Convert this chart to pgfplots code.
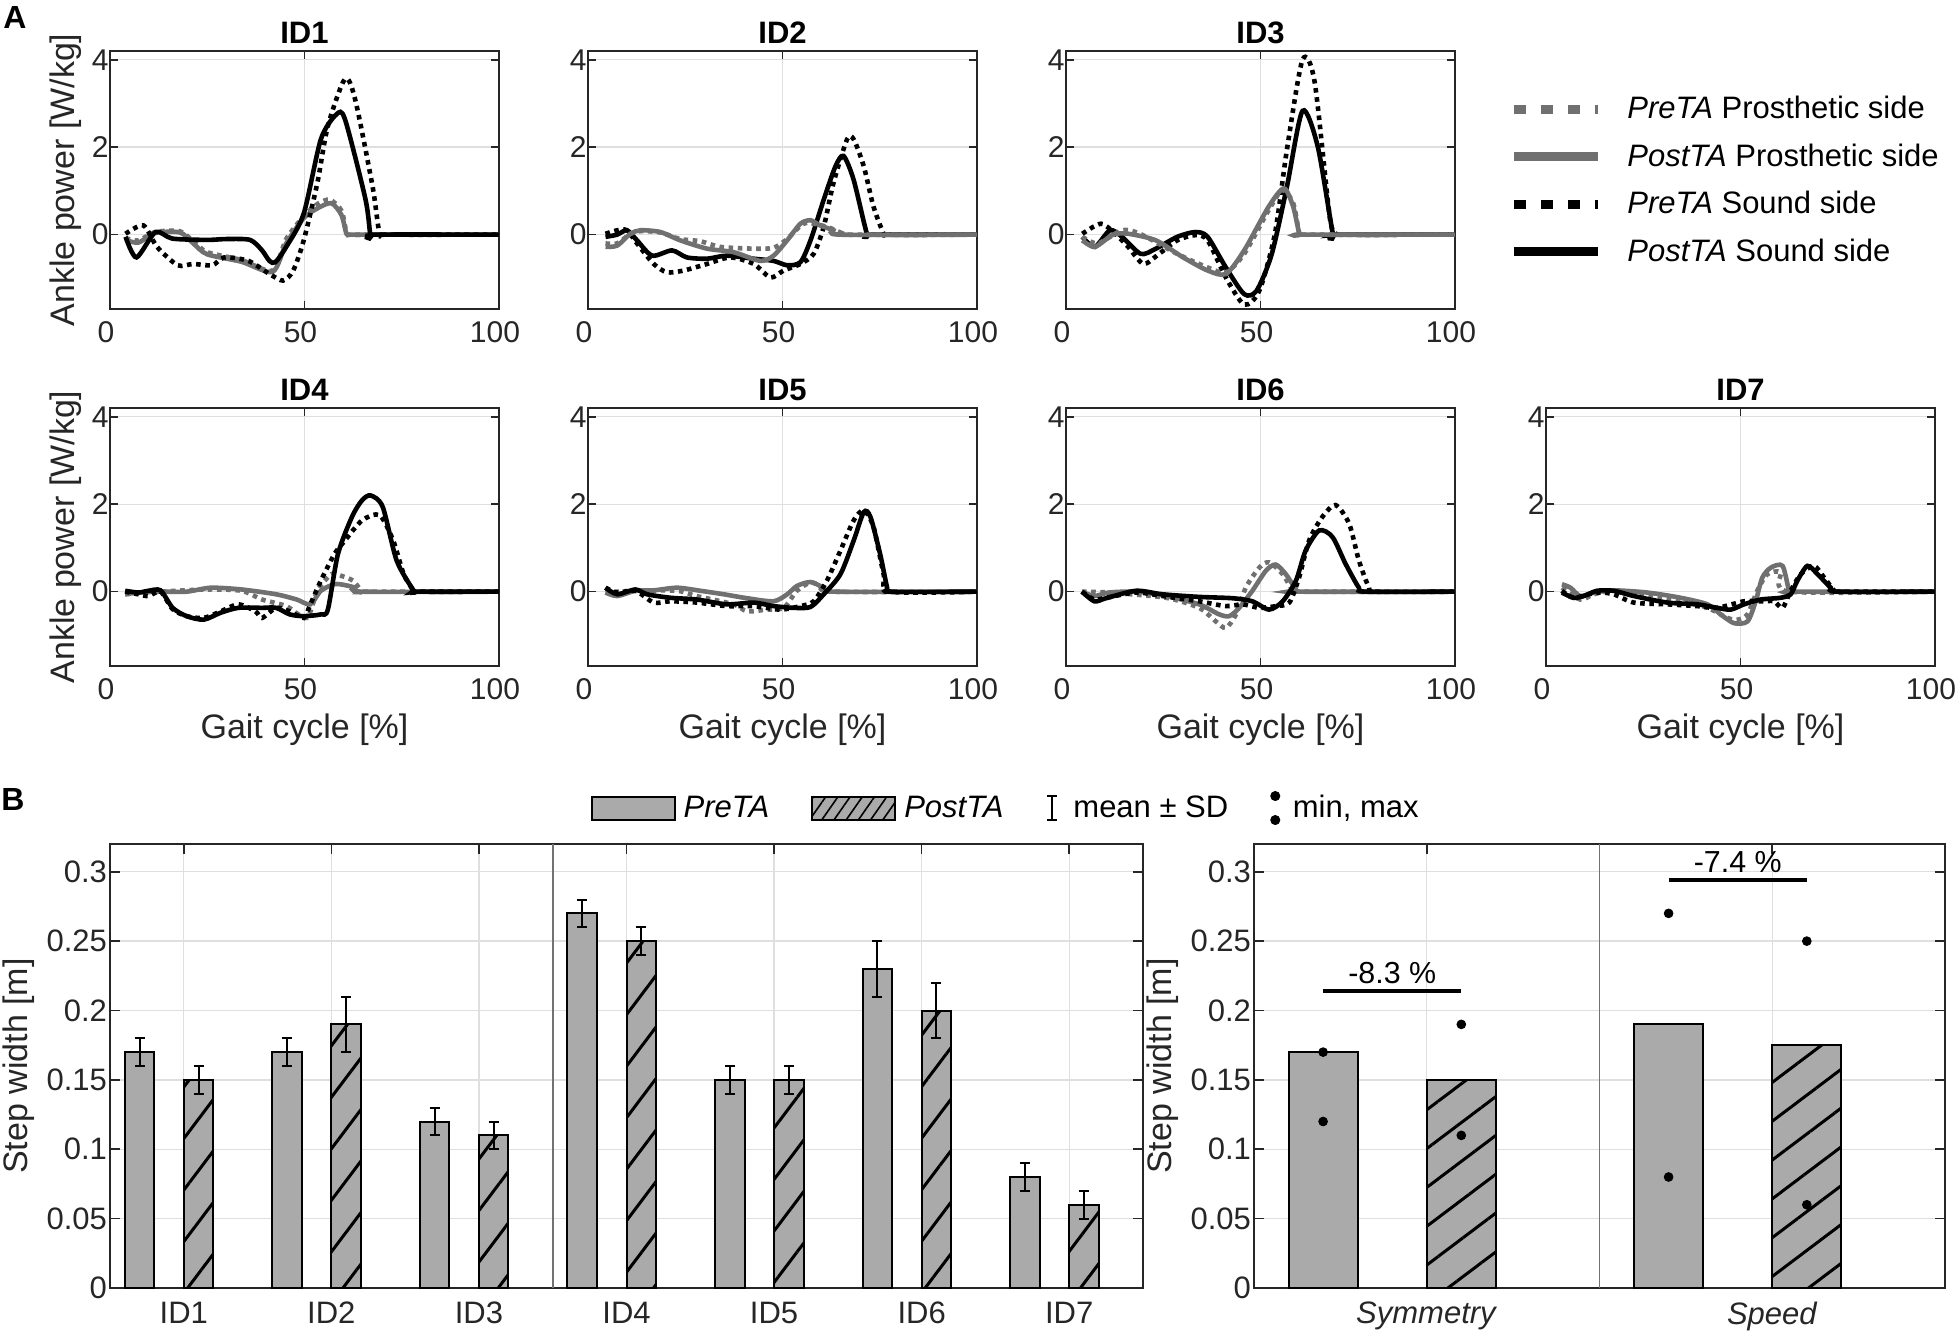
\documentclass[border=0pt]{standalone}
\usepackage{fontspec}
\setmainfont{Liberation Sans}
\usepackage{pgfplots}
\pgfplotsset{compat=1.18}
\usetikzlibrary{patterns.meta}

\definecolor{axc}{RGB}{38,38,38}
\definecolor{gridc}{RGB}{223,223,223}
\definecolor{barg}{RGB}{170,170,170}
\definecolor{prosg}{RGB}{112,112,112}

\newcommand{\tickfont}{\fontsize{15}{18}\selectfont}
\newcommand{\labfont}{\fontsize{17}{20}\selectfont}
\newcommand{\titfont}{\fontsize{15.5}{18}\selectfont\bfseries}
\newcommand{\legfont}{\fontsize{15.5}{18}\selectfont}

\pgfplotsset{
  common/.style={
    scale only axis,
    grid=major,
    major grid style={draw=gridc, line width=0.7pt},
    axis line style={draw=axc, line width=1pt},
    major tick style={draw=axc, line width=0.8pt},
    tick align=inside,
    /pgf/number format/assume math mode=true,
    tick label style={font=\tickfont, text=axc},
    label style={font=\labfont, text=axc},
  },
  gait/.style={common,
    width=194.5pt, height=129pt,
    xmin=0, xmax=100, ymin=-1.7, ymax=4.2,
    xtick={0,50,100}, ytick={0,2,4},
    major tick length=4pt,
    xticklabel style={yshift=-2.5pt, xshift=-2pt},
    yticklabel style={xshift=2.8pt},
    every axis title shift=0pt,
    title style={font=\titfont, text=black, at={(0.5,1)}, anchor=base, yshift=3.5pt},
    ylabel style={at={(axis description cs:-0.113,0.5)}, anchor=center},
    xlabel style={at={(axis description cs:0.5,-0.247)}, anchor=center},
  },
  bars/.style={common,
    height=222pt, ymin=0, ymax=0.32,
    ytick={0,0.05,0.1,0.15,0.2,0.25,0.3},
    yticklabels={0,0.05,0.1,0.15,0.2,0.25,0.3},
    major tick length=5pt,
    tick label style={font=\fontsize{15.5}{18}\selectfont, text=axc},
    xticklabel style={yshift=-3.5pt},
    yticklabel style={xshift=2pt},
    ylabel={Step width [m]},
  },
  preP/.style={draw=prosg, line width=2.3pt, dash pattern=on 2.3pt off 2.3pt, smooth, tension=0.45},
  postP/.style={draw=prosg, line width=2.3pt, smooth, tension=0.45},
  preS/.style={draw=black, line width=2.3pt, dash pattern=on 2.3pt off 2.3pt, smooth, tension=0.45},
  postS/.style={draw=black, line width=2.3pt, smooth, tension=0.45},
  preBar/.style={ybar, bar width=0.2, bar shift=0pt, fill=barg, draw=black, line width=1pt},
  postBar/.style={ybar, bar width=0.2, bar shift=0pt, fill=barg, draw=black, line width=1pt,
    postaction={pattern={Lines[angle=#1, distance=15.5pt, line width=1.5pt]}}},
  sdbars/.style={draw=none, mark=none, forget plot,
    error bars/.cd, y dir=both, y explicit,
    error bar style={draw=black, line width=1pt},
    error mark options={rotate=90, draw=black, mark size=2.5pt, line width=1pt}},
}

\begin{document}
\begin{tikzpicture}
\useasboundingbox (0pt,0pt) rectangle (980pt,-665.5pt);

\node[anchor=base west, font=\fontsize{16}{18}\selectfont\bfseries, inner sep=0pt] at (1.5pt,-14.5pt) {A};
\node[anchor=base west, font=\fontsize{16}{18}\selectfont\bfseries, inner sep=0pt] at (0.5pt,-405pt) {B};

% ---------- row 1 ----------
\begin{axis}[gait, at={(55pt,-25.5pt)}, anchor=north west, title={ID1}, ylabel={Ankle power [W/kg]}]
\addplot[preP] coordinates {(4,-0.08) (7.3,-0.13) (11.7,0.06) (17.9,0.08) (21.4,-0.15) (25,-0.4) (33.8,-0.58) (41.8,-0.82) (45.3,-0.1) (49.8,0.42) (53.3,0.7) (56.5,0.8) (59.5,0.55) (60.8,0.05) (62,0) (70,0) (100,0)};
\addplot[postP] coordinates {(4,-0.12) (7.3,-0.18) (11.7,0.04) (18,0.05) (21.4,-0.2) (25,-0.45) (33.8,-0.62) (41.8,-0.85) (45.3,-0.2) (49.8,0.38) (53.3,0.6) (56.9,0.72) (59.5,0.45) (60.8,0.02) (62,0) (70,0) (100,0)};
\addplot[preS] coordinates {(4,0.02) (8.6,0.21) (12.1,-0.28) (17.4,-0.7) (21.4,-0.67) (26.3,-0.7) (29.4,-0.52) (35.6,-0.6) (41,-0.9) (44.5,-1.05) (47.1,-0.82) (49.8,-0.13) (53.3,1.18) (56,2.48) (60.4,3.56) (63,3.1) (67.5,1.1) (69.3,0.02) (71,0) (100,0)};
\addplot[postS] coordinates {(4,-0.05) (6.8,-0.52) (11.7,0.06) (16,-0.09) (25,-0.12) (30,-0.1) (36,-0.12) (39,-0.35) (41,-0.6) (42.5,-0.63) (45.3,-0.28) (49.8,0.48) (54.2,2.18) (58.2,2.75) (60.4,2.64) (65.7,0.8) (67,-0.05) (68,0) (100,0)};
\end{axis}

\begin{axis}[gait, at={(294pt,-25.5pt)}, anchor=north west, title={ID2}]
\addplot[preS] coordinates {(4.5,0.02) (7.5,0.1) (10,0.1) (12.6,-0.2) (16.9,-0.67) (20.3,-0.86) (24.6,-0.82) (30.6,-0.67) (36.6,-0.52) (42.6,-0.67) (46.9,-0.98) (50.3,-0.82) (54.6,-0.67) (58,-0.44) (60.6,0.18) (63.1,1.18) (66.6,2.18) (68.3,2.18) (70.9,1.56) (73.4,0.64) (76,0.02) (77,0) (100,0)};
\addplot[postS] coordinates {(4.5,-0.05) (7.5,0) (10,0.1) (12.6,-0.13) (16.5,-0.48) (21.6,-0.36) (25.4,-0.52) (30.6,-0.55) (35.7,-0.48) (42.6,-0.55) (47.7,-0.6) (51.2,-0.7) (54.6,-0.63) (57.2,-0.13) (60.6,0.8) (63.6,1.56) (65.7,1.8) (68.3,1.25) (71.7,0.02) (73,0) (100,0)};
\addplot[preP] coordinates {(4.5,-0.2) (7.5,-0.2) (10.9,0.02) (13.5,0.08) (18.6,0.05) (23.7,-0.1) (28.9,-0.15) (34,-0.28) (42.6,-0.32) (47.7,-0.3) (51.2,-0.1) (54.6,0.2) (56.3,0.27) (59.7,0.22) (62.3,0.15) (64.9,0.05) (66,0) (100,0)};
\addplot[postP] coordinates {(4.5,-0.28) (7.5,-0.25) (10.9,0.02) (13.5,0.1) (18.6,0.06) (23.7,-0.13) (30.6,-0.32) (37.4,-0.4) (44.3,-0.6) (47.7,-0.48) (51.2,-0.13) (54.6,0.25) (57.2,0.33) (59.7,0.21) (63.1,0.1) (64.9,0) (100,0)};
\end{axis}

\begin{axis}[gait, at={(533pt,-25.5pt)}, anchor=north west, title={ID3},
  legend style={at={(axis description cs:1.1388,0.841)}, anchor=north west, draw=none, fill=none,
    inner sep=0pt, font=\legfont, text=black, row sep=7pt, column sep=10.5pt, nodes={inner sep=2pt}},
  legend cell align=left]
\addlegendimage{legend image code/.code={\draw[prosg, line width=4.5pt, dash pattern=on 6pt off 7.5pt] (0pt,0pt) -- (42pt,0pt);}}
\addlegendentry{\textit{PreTA} Prosthetic side}
\addlegendimage{legend image code/.code={\draw[prosg, line width=4.5pt] (0pt,0pt) -- (42pt,0pt);}}
\addlegendentry{\textit{PostTA} Prosthetic side}
\addlegendimage{legend image code/.code={\draw[black, line width=4.5pt, dash pattern=on 6pt off 7.5pt] (0pt,0pt) -- (42pt,0pt);}}
\addlegendentry{\textit{PreTA} Sound side}
\addlegendimage{legend image code/.code={\draw[black, line width=4.5pt] (0pt,0pt) -- (42pt,0pt);}}
\addlegendentry{\textit{PostTA} Sound side}
\addplot[preS, forget plot] coordinates {(4.2,0.02) (9,0.25) (12.9,0) (16,-0.28) (19.9,-0.67) (23.9,-0.44) (28.6,-0.13) (33.3,-0.01) (36.4,-0.13) (41.1,-0.98) (45.8,-1.6) (49.7,-1.28) (53.7,0.02) (56.8,1.95) (60.8,4.0) (63.9,3.5) (67.8,0.4) (69.4,0.02) (70.5,0) (100,0)};
\addplot[postS, forget plot] coordinates {(4.2,-0.05) (7.4,-0.28) (11.3,0.1) (14.4,-0.05) (19.2,-0.44) (23.1,-0.32) (28.6,-0.05) (33.3,0.06) (36.4,-0.05) (41.1,-0.75) (45.8,-1.36) (49,-1.28) (52.9,-0.44) (56.8,1.1) (60.8,2.83) (64.7,2.02) (68.6,0.02) (69.5,0) (100,0)};
\addplot[preP, forget plot] coordinates {(4.2,-0.05) (8.2,-0.2) (14.4,0.1) (19,0.02) (28.6,-0.44) (36.4,-0.75) (41.1,-0.86) (45.8,-0.44) (52.1,0.56) (55.6,1.02) (58.4,0.72) (60,0.02) (61,0) (100,0)};
\addplot[postP, forget plot] coordinates {(4.2,-0.13) (7.4,-0.28) (12.1,0) (16,0.02) (23.1,-0.13) (30.1,-0.52) (36.4,-0.82) (41.1,-0.9) (45.8,-0.36) (52.1,0.64) (56,1.06) (58.4,0.64) (60,0.02) (61,0) (100,0)};
\end{axis}

% ---------- row 2 ----------
\begin{axis}[gait, at={(55pt,-204pt)}, anchor=north west, title={ID4}, ylabel={Ankle power [W/kg]}, xlabel={Gait cycle [\%]}]
\addplot[preP] coordinates {(3.9,-0.06) (13,0) (25,0.05) (33.8,0.02) (39.1,-0.18) (45.3,-0.33) (50.6,-0.6) (53.3,0.02) (56.9,0.4) (59.5,0.36) (62.5,0.25) (64.8,0) (66,0) (100,0)};
\addplot[postP] coordinates {(3.9,-0.06) (7.3,-0.02) (13,0) (19.7,0) (25.9,0.09) (33.8,0.05) (42.7,-0.06) (48,-0.18) (51.5,-0.29) (54.2,0.02) (57.7,0.17) (60.4,0.15) (63,0.09) (64.8,0) (100,0)};
\addplot[preS] coordinates {(3.9,0) (7.3,-0.06) (9.9,-0.1) (13,0) (16.1,-0.4) (19.7,-0.56) (24.1,-0.6) (28.5,-0.45) (33,-0.29) (37.4,-0.45) (39.1,-0.6) (42.7,-0.37) (46.2,-0.45) (49.8,-0.6) (51.5,-0.29) (54.2,0.25) (57.7,0.86) (60.4,1.17) (64.8,1.63) (69.3,1.75) (72.8,1.17) (75.5,0.4) (78.1,0.02) (79,0) (100,0)};
\addplot[postS] coordinates {(3.9,0.02) (7.3,-0.02) (9.9,0.02) (13,0.03) (16.1,-0.37) (19.7,-0.56) (24.1,-0.64) (28.5,-0.48) (33,-0.37) (39.1,-0.37) (42.7,-0.37) (46.2,-0.52) (49.8,-0.56) (54.2,-0.52) (56,-0.41) (58.6,0.86) (62.2,1.71) (64.8,2.09) (67,2.2) (70.1,1.94) (73.7,0.71) (78.1,0.02) (79,0) (100,0)};
\end{axis}

\begin{axis}[gait, at={(294pt,-204pt)}, anchor=north west, title={ID5}, xlabel={Gait cycle [\%]}]
\addplot[preP] coordinates {(4.5,-0.02) (12.2,0.02) (22.9,0.02) (27.9,-0.1) (37.4,-0.29) (40.9,-0.45) (45.9,-0.41) (50.3,-0.37) (53.7,0.02) (57.2,0.21) (59.7,0.13) (63.2,0) (100,0)};
\addplot[postP] coordinates {(4.5,-0.02) (7.5,-0.1) (12.2,0.02) (16.9,0.03) (22.9,0.09) (28.9,0.02) (34.9,-0.06) (40.9,-0.15) (47.7,-0.22) (51.2,-0.06) (53.7,0.13) (57.2,0.22) (60.6,0.09) (63.2,0) (100,0)};
\addplot[preS] coordinates {(4.5,0.09) (7.5,-0.02) (12.2,0.02) (16.9,-0.25) (21.2,-0.22) (28,-0.25) (35.7,-0.33) (42.6,-0.33) (49.4,-0.41) (54.6,-0.33) (58,-0.22) (61.4,0.25) (64.9,0.94) (68.3,1.63) (70.9,1.86) (73.4,1.48) (76,0.4) (77.7,0) (100,0)};
\addplot[postS] coordinates {(4.5,0.09) (7.5,-0.06) (12.2,0.05) (15.2,-0.06) (21.2,-0.14) (28,-0.18) (35.7,-0.29) (42.6,-0.25) (47.7,-0.33) (52.9,-0.37) (57.2,-0.35) (60.6,-0.06) (64.9,0.4) (68.3,1.17) (70.9,1.82) (72.6,1.71) (75.1,0.86) (76.9,0.09) (77.7,0) (100,0)};
\end{axis}

\begin{axis}[gait, at={(533pt,-204pt)}, anchor=north west, title={ID6}, xlabel={Gait cycle [\%]}]
\addplot[preP] coordinates {(4.1,0) (11,-0.02) (25.7,-0.14) (34.2,-0.37) (38.5,-0.68) (41.1,-0.83) (43.7,-0.52) (46.2,0.09) (49.7,0.55) (52.2,0.67) (55.7,0.4) (58.3,0.02) (59.5,0) (100,0)};
\addplot[postP] coordinates {(4.1,0) (7.3,-0.1) (11,-0.02) (18,0) (25.7,-0.1) (34.2,-0.29) (39.4,-0.52) (42,-0.56) (44.5,-0.37) (47.9,0.02) (51.4,0.48) (53.9,0.62) (56.5,0.4) (59.1,0.05) (60,0) (100,0)};
\addplot[preS] coordinates {(4.1,0) (7.3,-0.18) (10.3,-0.14) (18,-0.02) (24.8,-0.1) (34.2,-0.22) (41.1,-0.33) (45.4,-0.29) (49.7,-0.37) (54,-0.33) (57.4,-0.25) (59.9,0.32) (62.5,1.17) (65.9,1.71) (69.3,1.98) (72.8,1.55) (75.3,0.71) (77.9,0.09) (79.6,0) (100,0)};
\addplot[postS] coordinates {(4.1,0) (7.3,-0.22) (10.3,-0.15) (18,0.02) (24.8,-0.06) (34.2,-0.12) (42.8,-0.15) (47.9,-0.22) (52.2,-0.41) (55.7,-0.22) (59.1,0.25) (61.6,0.94) (65.1,1.4) (68.5,1.25) (71.9,0.63) (75.3,0.09) (77.1,0) (100,0)};
\end{axis}

\begin{axis}[gait, at={(773pt,-204pt)}, anchor=north west, title={ID7}, xlabel={Gait cycle [\%]}]
\addplot[preP] coordinates {(4.1,0.09) (8.8,-0.18) (12.3,-0.06) (17.4,0.02) (26,-0.06) (34.6,-0.22) (41.5,-0.37) (46.6,-0.6) (49.2,-0.64) (51.8,-0.52) (54.3,0.02) (56.9,0.4) (60.3,0.44) (62.5,0) (100,0)};
\addplot[postP] coordinates {(4.1,0.17) (6.3,0.09) (8.8,-0.1) (12.3,-0.02) (17.4,0.03) (26,-0.02) (34.6,-0.14) (41.5,-0.29) (44.9,-0.52) (48.3,-0.72) (51.8,-0.68) (53.9,-0.22) (55.6,0.32) (57.8,0.55) (60.8,0.59) (62.5,0.02) (63.5,0) (100,0)};
\addplot[preS] coordinates {(4.1,0.02) (7.1,-0.14) (13.1,-0.02) (17.4,-0.06) (22.6,-0.25) (31.2,-0.29) (38.9,-0.33) (44,-0.37) (50.9,-0.22) (55.2,-0.22) (58.6,-0.22) (60.8,-0.37) (62.9,0.02) (65.5,0.4) (68.9,0.59) (71.5,0.32) (74.1,0.02) (75,0) (100,0)};
\addplot[postS] coordinates {(4.1,-0.02) (7.1,-0.14) (9.7,-0.1) (13.1,0.02) (17.4,0.02) (22.6,-0.1) (31.2,-0.25) (38.9,-0.29) (44,-0.37) (47.5,-0.41) (50.9,-0.29) (55.2,-0.18) (60.3,-0.14) (62.9,-0.06) (64.6,0.25) (67.2,0.59) (69.8,0.4) (73.2,0.09) (74.9,0) (100,0)};
\end{axis}

% ---------- B: step width per subject ----------
\begin{axis}[bars, at={(55pt,-422pt)}, anchor=north west, width=516.5pt,
  xmin=0.5, xmax=7.5, xtick={1,2,3,4,5,6,7},
  xticklabels={ID1,ID2,ID3,ID4,ID5,ID6,ID7},
  ylabel style={at={(axis description cs:-0.0881,0.5)}, anchor=center},
  legend style={at={(axis description cs:0.465,1.081)}, anchor=west, draw=none, fill=none,
    inner sep=0pt, font=\fontsize{15.5}{18}\selectfont, text=black, legend columns=4,
    column sep=2pt, nodes={inner sep=2pt},
    /tikz/every even column/.append style={column sep=19pt}},
  legend cell align=left]
\addlegendimage{legend image code/.code={\draw[fill=barg, draw=black, line width=1pt] (0pt,-5.75pt) rectangle (41.5pt,5.75pt);}}
\addlegendentry{\textit{PreTA}}
\addlegendimage{legend image code/.code={\draw[fill=barg, draw=black, line width=1pt, postaction={pattern={Lines[angle=55, distance=5pt, line width=0.8pt]}}] (0pt,-5.75pt) rectangle (41.5pt,5.75pt);}}
\addlegendentry{\textit{PostTA}}
\addlegendimage{legend image code/.code={\draw[black, line width=1pt] (2.5pt,-6pt) -- (2.5pt,6pt) (0pt,-6pt) -- (5pt,-6pt) (0pt,6pt) -- (5pt,6pt); \path[draw=none, fill=none] (0pt,0pt) -- (9.4pt,0pt);}}
\addlegendentry{mean ± SD}
\addlegendimage{legend image code/.code={\fill[black] (2.5pt,-6pt) circle (2.3pt) (2.5pt,6pt) circle (2.3pt); \path[draw=none, fill=none] (0pt,0pt) -- (7.3pt,0pt);}}
\addlegendentry{min, max}
\addplot[axc!65, line width=0.8pt, forget plot] coordinates {(3.5,0) (3.5,0.32)};
\addplot[preBar, forget plot] coordinates {(0.7,0.17) (1.7,0.17) (2.7,0.12) (3.7,0.27) (4.7,0.15) (5.7,0.23) (6.7,0.08)};
\addplot[postBar=53, forget plot] coordinates {(1.1,0.15) (2.1,0.19) (3.1,0.11) (4.1,0.25) (5.1,0.15) (6.1,0.20) (7.1,0.06)};
\addplot[sdbars] coordinates {(0.7,0.17) +- (0,0.01) (1.7,0.17) +- (0,0.01) (2.7,0.12) +- (0,0.01) (3.7,0.27) +- (0,0.01) (4.7,0.15) +- (0,0.01) (5.7,0.23) +- (0,0.02) (6.7,0.08) +- (0,0.01)};
\addplot[sdbars] coordinates {(1.1,0.15) +- (0,0.01) (2.1,0.19) +- (0,0.02) (3.1,0.11) +- (0,0.01) (4.1,0.25) +- (0,0.01) (5.1,0.15) +- (0,0.01) (6.1,0.20) +- (0,0.02) (7.1,0.06) +- (0,0.01)};
\end{axis}

% ---------- B: group summary ----------
\begin{axis}[bars, at={(627pt,-422pt)}, anchor=north west, width=345.5pt,
  xmin=0.5, xmax=2.5, xtick={1,2},
  xticklabels={\textit{Symmetry},\textit{Speed}},
  ylabel style={at={(axis description cs:-0.1317,0.5)}, anchor=center}]
\addplot[axc!65, line width=0.8pt] coordinates {(1.5,0) (1.5,0.32)};
\addplot[preBar] coordinates {(0.7,0.17) (1.7,0.19)};
\addplot[postBar=37] coordinates {(1.1,0.15) (2.1,0.175)};
\addplot[only marks, mark=*, mark size=2.2pt, black] coordinates {(0.7,0.17) (0.7,0.12) (1.7,0.27) (1.7,0.08) (1.1,0.19) (1.1,0.11) (2.1,0.25) (2.1,0.06)};
\addplot[black, line width=1.6pt] coordinates {(0.7,0.214) (1.1,0.214)};
\addplot[black, line width=1.6pt] coordinates {(1.7,0.294) (2.1,0.294)};
\node[above, font=\fontsize{15.2}{18}\selectfont, text=black] at (axis cs:0.9,0.214) {-8.3 \%};
\node[above, font=\fontsize{15.2}{18}\selectfont, text=black] at (axis cs:1.9,0.294) {-7.4 \%};
\end{axis}

\end{tikzpicture}
\end{document}
